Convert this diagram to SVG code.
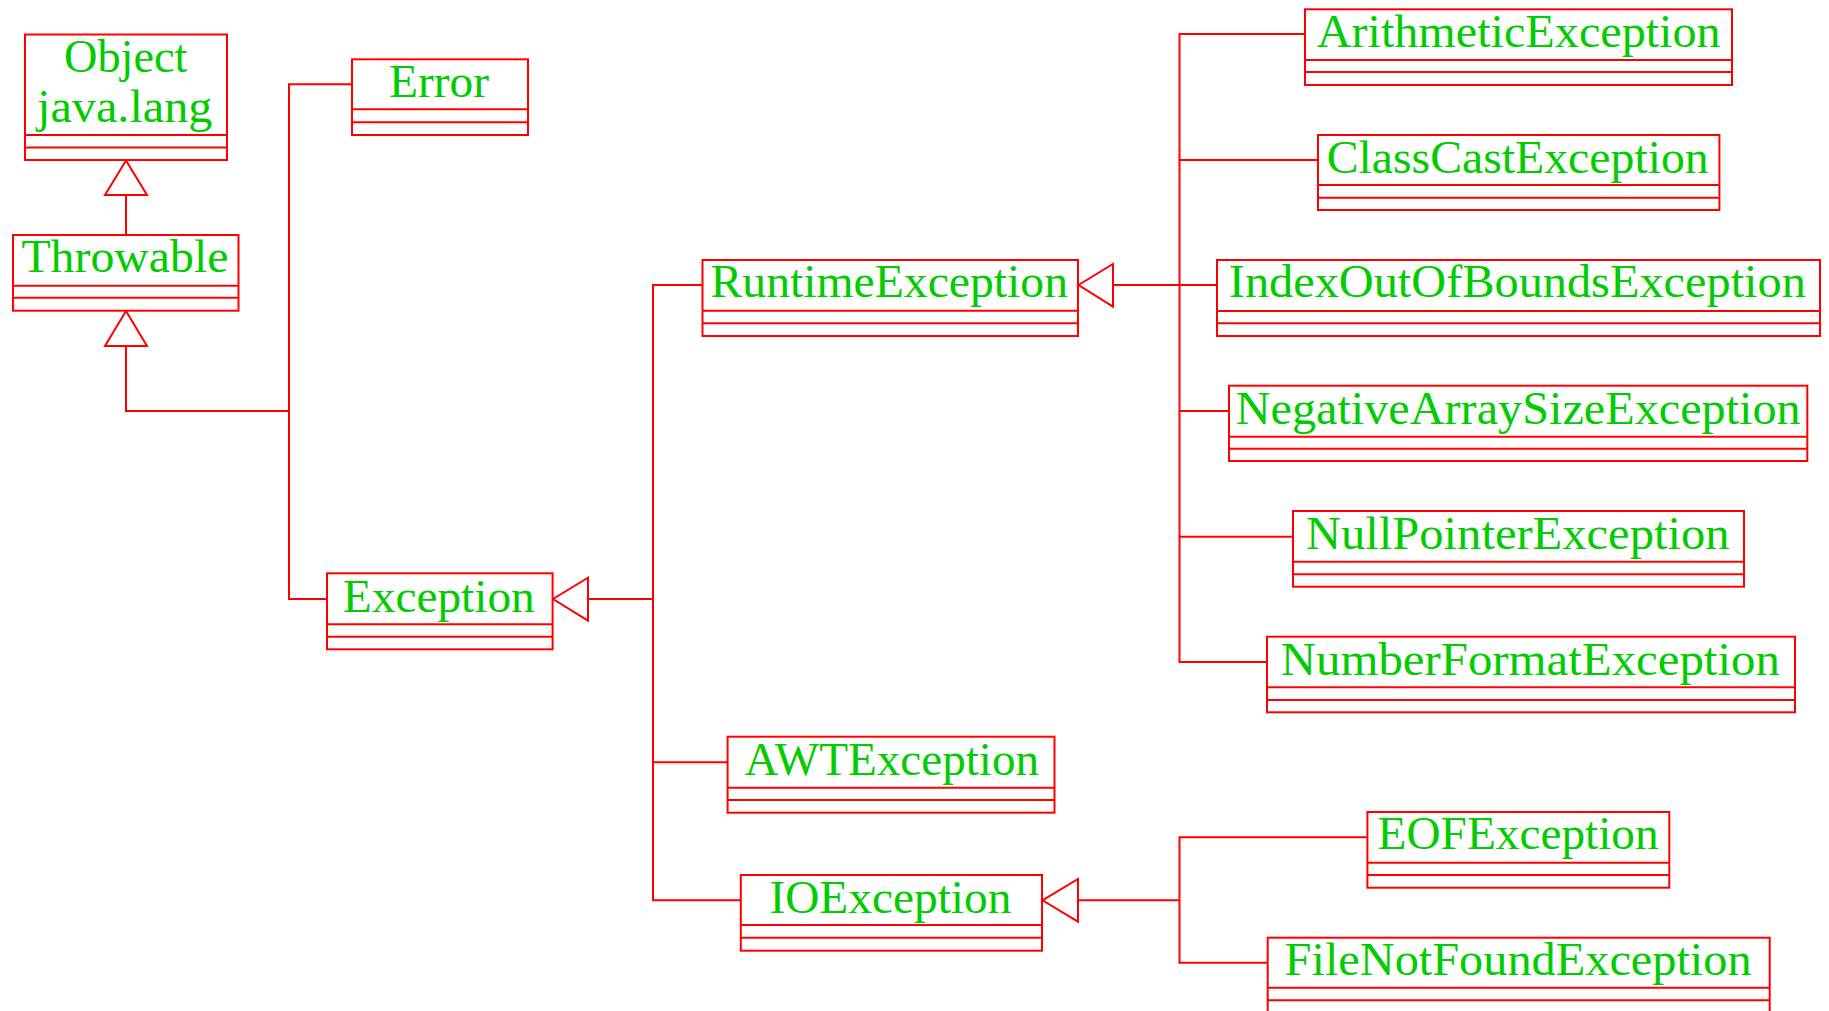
<svg xmlns="http://www.w3.org/2000/svg" width="1829" height="1011" viewBox="0 0 1829 1011">
<style>
.box{fill:#fff;stroke:#ff0000;stroke-width:2}
.sep{stroke:#ff0000;stroke-width:2}
.lbl{font-family:"Liberation Serif","Times New Roman",serif;font-size:46px;fill:#00cc00}
.wire{fill:none;stroke:#ff0000;stroke-width:2}
.tri{fill:#fff;stroke:#ff0000;stroke-width:2}
</style>
<rect width="1829" height="1011" fill="#fff"/>
<g id="connectors">
<path class="wire" d="M126,195 V235"/>
<path class="wire" d="M126,346 V411 H289"/>
<path class="wire" d="M352,84.3 H289 V599 H327"/>
<path class="wire" d="M588,599 H653"/>
<path class="wire" d="M702.5,285 H653 V900.3 H740.8"/>
<path class="wire" d="M653,762.3 H727.6"/>
<path class="wire" d="M1113,285 H1217"/>
<path class="wire" d="M1305,34 H1179.5 V662 H1267"/>
<path class="wire" d="M1179.5,160 H1318"/>
<path class="wire" d="M1179.5,411 H1229"/>
<path class="wire" d="M1179.5,536.7 H1293"/>
<path class="wire" d="M1078,900.3 H1179.5"/>
<path class="wire" d="M1367.4,837.3 H1179.5 V962.7 H1267.7"/>
<polygon class="tri" points="126,160.5 105,195 147,195"/>
<polygon class="tri" points="126,311 105,346 147,346"/>
<polygon class="tri" points="553,599 588,577.7 588,620.7"/>
<polygon class="tri" points="1078.5,285 1113,264 1113,306.7"/>
<polygon class="tri" points="1042.5,900.3 1078,879 1078,921.7"/>
</g>
<g id="Object">
<rect class="box" x="25" y="34.5" width="202" height="125.5"/>
<line class="sep" x1="25" y1="135" x2="227" y2="135"/>
<line class="sep" x1="25" y1="147.5" x2="227" y2="147.5"/>
<text class="lbl" x="64" y="72" textLength="123.5" lengthAdjust="spacingAndGlyphs">Object</text>
<text class="lbl" x="37" y="121.5" textLength="175.5" lengthAdjust="spacingAndGlyphs">java.lang</text>
</g>
<g id="Throwable">
<rect class="box" x="13" y="235" width="225.5" height="75.7"/>
<line class="sep" x1="13" y1="285.7" x2="238.5" y2="285.7"/>
<line class="sep" x1="13" y1="297.7" x2="238.5" y2="297.7"/>
<text class="lbl" x="21.4" y="272.3" textLength="207" lengthAdjust="spacingAndGlyphs">Throwable</text>
</g>
<g id="Error">
<rect class="box" x="352" y="59.3" width="176" height="75.7"/>
<line class="sep" x1="352" y1="109.3" x2="528" y2="109.3"/>
<line class="sep" x1="352" y1="122.3" x2="528" y2="122.3"/>
<text class="lbl" x="389" y="96.7" textLength="100" lengthAdjust="spacingAndGlyphs">Error</text>
</g>
<g id="Exception">
<rect class="box" x="327" y="573.3" width="225.6" height="76"/>
<line class="sep" x1="327" y1="624.3" x2="552.6" y2="624.3"/>
<line class="sep" x1="327" y1="636.7" x2="552.6" y2="636.7"/>
<text class="lbl" x="342.8" y="611.7" textLength="192" lengthAdjust="spacingAndGlyphs">Exception</text>
</g>
<g id="RuntimeException">
<rect class="box" x="702.5" y="260" width="375.5" height="76"/>
<line class="sep" x1="702.5" y1="310.7" x2="1078" y2="310.7"/>
<line class="sep" x1="702.5" y1="323.3" x2="1078" y2="323.3"/>
<text class="lbl" x="710.5" y="297.3" textLength="357.5" lengthAdjust="spacingAndGlyphs">RuntimeException</text>
</g>
<g id="AWTException">
<rect class="box" x="727.6" y="736.7" width="326.9" height="76"/>
<line class="sep" x1="727.6" y1="787.7" x2="1054.5" y2="787.7"/>
<line class="sep" x1="727.6" y1="800" x2="1054.5" y2="800"/>
<text class="lbl" x="744.5" y="775" textLength="294.5" lengthAdjust="spacingAndGlyphs">AWTException</text>
</g>
<g id="IOException">
<rect class="box" x="740.8" y="875" width="301.2" height="75.7"/>
<line class="sep" x1="740.8" y1="925" x2="1042" y2="925"/>
<line class="sep" x1="740.8" y1="937.7" x2="1042" y2="937.7"/>
<text class="lbl" x="769.4" y="913.3" textLength="242" lengthAdjust="spacingAndGlyphs">IOException</text>
</g>
<g id="ArithmeticException">
<rect class="box" x="1305" y="9.3" width="427" height="75.7"/>
<line class="sep" x1="1305" y1="60" x2="1732" y2="60"/>
<line class="sep" x1="1305" y1="72" x2="1732" y2="72"/>
<text class="lbl" x="1316.7" y="47.3" textLength="404" lengthAdjust="spacingAndGlyphs">ArithmeticException</text>
</g>
<g id="ClassCastException">
<rect class="box" x="1318" y="135" width="401.4" height="75"/>
<line class="sep" x1="1318" y1="185" x2="1719.4" y2="185"/>
<line class="sep" x1="1318" y1="197.7" x2="1719.4" y2="197.7"/>
<text class="lbl" x="1326.7" y="172.7" textLength="382" lengthAdjust="spacingAndGlyphs">ClassCastException</text>
</g>
<g id="IndexOutOfBoundsException">
<rect class="box" x="1217" y="260" width="603" height="76"/>
<line class="sep" x1="1217" y1="311" x2="1820" y2="311"/>
<line class="sep" x1="1217" y1="323.3" x2="1820" y2="323.3"/>
<text class="lbl" x="1228.8" y="297.3" textLength="577" lengthAdjust="spacingAndGlyphs">IndexOutOfBoundsException</text>
</g>
<g id="NegativeArraySizeException">
<rect class="box" x="1229" y="385.7" width="578.3" height="75.3"/>
<line class="sep" x1="1229" y1="436.7" x2="1807.3" y2="436.7"/>
<line class="sep" x1="1229" y1="448.7" x2="1807.3" y2="448.7"/>
<text class="lbl" x="1235.7" y="424" textLength="565" lengthAdjust="spacingAndGlyphs">NegativeArraySizeException</text>
</g>
<g id="NullPointerException">
<rect class="box" x="1293" y="511" width="451" height="75.7"/>
<line class="sep" x1="1293" y1="561.7" x2="1744" y2="561.7"/>
<line class="sep" x1="1293" y1="574.3" x2="1744" y2="574.3"/>
<text class="lbl" x="1306" y="549.3" textLength="423.5" lengthAdjust="spacingAndGlyphs">NullPointerException</text>
</g>
<g id="NumberFormatException">
<rect class="box" x="1267" y="636.7" width="528" height="75.6"/>
<line class="sep" x1="1267" y1="687.3" x2="1795" y2="687.3"/>
<line class="sep" x1="1267" y1="700" x2="1795" y2="700"/>
<text class="lbl" x="1280.8" y="675" textLength="499" lengthAdjust="spacingAndGlyphs">NumberFormatException</text>
</g>
<g id="EOFException">
<rect class="box" x="1367.4" y="812" width="301.9" height="75.7"/>
<line class="sep" x1="1367.4" y1="862.7" x2="1669.3" y2="862.7"/>
<line class="sep" x1="1367.4" y1="875" x2="1669.3" y2="875"/>
<text class="lbl" x="1377.6" y="849.3" textLength="281" lengthAdjust="spacingAndGlyphs">EOFException</text>
</g>
<g id="FileNotFoundException">
<rect class="box" x="1267.7" y="937.7" width="502" height="76"/>
<line class="sep" x1="1267.7" y1="987.7" x2="1769.7" y2="987.7"/>
<line class="sep" x1="1267.7" y1="1000.3" x2="1769.7" y2="1000.3"/>
<text class="lbl" x="1284.6" y="975" textLength="467" lengthAdjust="spacingAndGlyphs">FileNotFoundException</text>
</g>
</svg>
